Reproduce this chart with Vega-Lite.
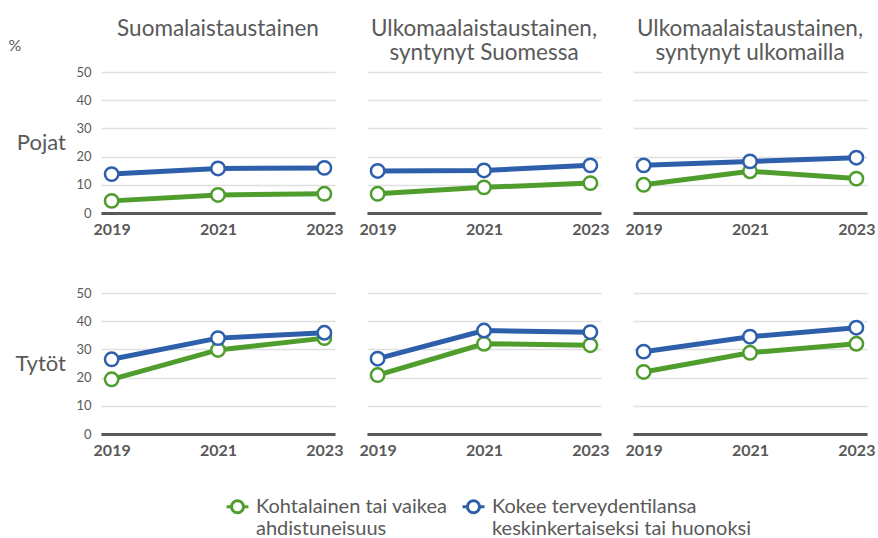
{
  "$schema": "https://vega.github.io/schema/vega-lite/v6.json",
  "padding": {"left": 8, "top": 17, "right": 0, "bottom": 5},
  "title": {"text": "%", "anchor": "start", "frame": "bounds", "fontSize": 16, "fontWeight": "normal", "color": "#595959", "dy": 36, "dx": -7, "offset": 0},
  "data": {
    "values": [
      {"sex": "Pojat", "group": "Suomalaistaustainen|", "measure": "Kohtalainen tai vaikea|ahdistuneisuus", "year": "2019", "value": 4.3},
      {"sex": "Pojat", "group": "Suomalaistaustainen|", "measure": "Kohtalainen tai vaikea|ahdistuneisuus", "year": "2021", "value": 6.4},
      {"sex": "Pojat", "group": "Suomalaistaustainen|", "measure": "Kohtalainen tai vaikea|ahdistuneisuus", "year": "2023", "value": 6.8},
      {"sex": "Pojat", "group": "Suomalaistaustainen|", "measure": "Kokee terveydentilansa|keskinkertaiseksi tai huonoksi", "year": "2019", "value": 13.8},
      {"sex": "Pojat", "group": "Suomalaistaustainen|", "measure": "Kokee terveydentilansa|keskinkertaiseksi tai huonoksi", "year": "2021", "value": 15.8},
      {"sex": "Pojat", "group": "Suomalaistaustainen|", "measure": "Kokee terveydentilansa|keskinkertaiseksi tai huonoksi", "year": "2023", "value": 16.0},
      {"sex": "Pojat", "group": "Ulkomaalaistaustainen,|syntynyt Suomessa", "measure": "Kohtalainen tai vaikea|ahdistuneisuus", "year": "2019", "value": 6.8},
      {"sex": "Pojat", "group": "Ulkomaalaistaustainen,|syntynyt Suomessa", "measure": "Kohtalainen tai vaikea|ahdistuneisuus", "year": "2021", "value": 9.1},
      {"sex": "Pojat", "group": "Ulkomaalaistaustainen,|syntynyt Suomessa", "measure": "Kohtalainen tai vaikea|ahdistuneisuus", "year": "2023", "value": 10.6},
      {"sex": "Pojat", "group": "Ulkomaalaistaustainen,|syntynyt Suomessa", "measure": "Kokee terveydentilansa|keskinkertaiseksi tai huonoksi", "year": "2019", "value": 14.9},
      {"sex": "Pojat", "group": "Ulkomaalaistaustainen,|syntynyt Suomessa", "measure": "Kokee terveydentilansa|keskinkertaiseksi tai huonoksi", "year": "2021", "value": 15.1},
      {"sex": "Pojat", "group": "Ulkomaalaistaustainen,|syntynyt Suomessa", "measure": "Kokee terveydentilansa|keskinkertaiseksi tai huonoksi", "year": "2023", "value": 16.9},
      {"sex": "Pojat", "group": "Ulkomaalaistaustainen,|syntynyt ulkomailla", "measure": "Kohtalainen tai vaikea|ahdistuneisuus", "year": "2019", "value": 10.0},
      {"sex": "Pojat", "group": "Ulkomaalaistaustainen,|syntynyt ulkomailla", "measure": "Kohtalainen tai vaikea|ahdistuneisuus", "year": "2021", "value": 14.8},
      {"sex": "Pojat", "group": "Ulkomaalaistaustainen,|syntynyt ulkomailla", "measure": "Kohtalainen tai vaikea|ahdistuneisuus", "year": "2023", "value": 12.2},
      {"sex": "Pojat", "group": "Ulkomaalaistaustainen,|syntynyt ulkomailla", "measure": "Kokee terveydentilansa|keskinkertaiseksi tai huonoksi", "year": "2019", "value": 16.9},
      {"sex": "Pojat", "group": "Ulkomaalaistaustainen,|syntynyt ulkomailla", "measure": "Kokee terveydentilansa|keskinkertaiseksi tai huonoksi", "year": "2021", "value": 18.3},
      {"sex": "Pojat", "group": "Ulkomaalaistaustainen,|syntynyt ulkomailla", "measure": "Kokee terveydentilansa|keskinkertaiseksi tai huonoksi", "year": "2023", "value": 19.6},
      {"sex": "Tytöt", "group": "Suomalaistaustainen|", "measure": "Kohtalainen tai vaikea|ahdistuneisuus", "year": "2019", "value": 19.4},
      {"sex": "Tytöt", "group": "Suomalaistaustainen|", "measure": "Kohtalainen tai vaikea|ahdistuneisuus", "year": "2021", "value": 29.8},
      {"sex": "Tytöt", "group": "Suomalaistaustainen|", "measure": "Kohtalainen tai vaikea|ahdistuneisuus", "year": "2023", "value": 34.0},
      {"sex": "Tytöt", "group": "Suomalaistaustainen|", "measure": "Kokee terveydentilansa|keskinkertaiseksi tai huonoksi", "year": "2019", "value": 26.5},
      {"sex": "Tytöt", "group": "Suomalaistaustainen|", "measure": "Kokee terveydentilansa|keskinkertaiseksi tai huonoksi", "year": "2021", "value": 34.0},
      {"sex": "Tytöt", "group": "Suomalaistaustainen|", "measure": "Kokee terveydentilansa|keskinkertaiseksi tai huonoksi", "year": "2023", "value": 35.9},
      {"sex": "Tytöt", "group": "Ulkomaalaistaustainen,|syntynyt Suomessa", "measure": "Kohtalainen tai vaikea|ahdistuneisuus", "year": "2019", "value": 20.9},
      {"sex": "Tytöt", "group": "Ulkomaalaistaustainen,|syntynyt Suomessa", "measure": "Kohtalainen tai vaikea|ahdistuneisuus", "year": "2021", "value": 32.0},
      {"sex": "Tytöt", "group": "Ulkomaalaistaustainen,|syntynyt Suomessa", "measure": "Kohtalainen tai vaikea|ahdistuneisuus", "year": "2023", "value": 31.5},
      {"sex": "Tytöt", "group": "Ulkomaalaistaustainen,|syntynyt Suomessa", "measure": "Kokee terveydentilansa|keskinkertaiseksi tai huonoksi", "year": "2019", "value": 26.7},
      {"sex": "Tytöt", "group": "Ulkomaalaistaustainen,|syntynyt Suomessa", "measure": "Kokee terveydentilansa|keskinkertaiseksi tai huonoksi", "year": "2021", "value": 36.7},
      {"sex": "Tytöt", "group": "Ulkomaalaistaustainen,|syntynyt Suomessa", "measure": "Kokee terveydentilansa|keskinkertaiseksi tai huonoksi", "year": "2023", "value": 36.1},
      {"sex": "Tytöt", "group": "Ulkomaalaistaustainen,|syntynyt ulkomailla", "measure": "Kohtalainen tai vaikea|ahdistuneisuus", "year": "2019", "value": 22.0},
      {"sex": "Tytöt", "group": "Ulkomaalaistaustainen,|syntynyt ulkomailla", "measure": "Kohtalainen tai vaikea|ahdistuneisuus", "year": "2021", "value": 28.8},
      {"sex": "Tytöt", "group": "Ulkomaalaistaustainen,|syntynyt ulkomailla", "measure": "Kohtalainen tai vaikea|ahdistuneisuus", "year": "2023", "value": 32.0},
      {"sex": "Tytöt", "group": "Ulkomaalaistaustainen,|syntynyt ulkomailla", "measure": "Kokee terveydentilansa|keskinkertaiseksi tai huonoksi", "year": "2019", "value": 29.2},
      {"sex": "Tytöt", "group": "Ulkomaalaistaustainen,|syntynyt ulkomailla", "measure": "Kokee terveydentilansa|keskinkertaiseksi tai huonoksi", "year": "2021", "value": 34.5},
      {"sex": "Tytöt", "group": "Ulkomaalaistaustainen,|syntynyt ulkomailla", "measure": "Kokee terveydentilansa|keskinkertaiseksi tai huonoksi", "year": "2023", "value": 37.7}
    ]
  },
  "facet": {
    "row": {"field": "sex", "type": "nominal", "sort": ["Pojat", "Tytöt"], "header": {"title": null, "labelAngle": 0, "labelOrient": "left", "labelAlign": "left", "labelFontSize": 22, "labelColor": "#595959", "labelPadding": 10}},
    "column": {"field": "group", "type": "nominal", "sort": ["Suomalaistaustainen|", "Ulkomaalaistaustainen,|syntynyt Suomessa", "Ulkomaalaistaustainen,|syntynyt ulkomailla"], "header": {"title": null, "labelExpr": "split(datum.label, '|')", "labelFontSize": 22.5, "labelColor": "#595959", "labelLineHeight": 24, "labelPadding": 8, "labelLimit": 0}}
  },
  "bounds": "flush",
  "spacing": {"row": 80, "column": 32},
  "resolve": {"axis": {"x": "independent"}},
  "spec": {
    "width": 234,
    "height": 141,
    "encoding": {
      "x": {"field": "year", "type": "ordinal", "scale": {"type": "point", "padding": 0.1}, "axis": {"title": null, "labelAngle": 0, "ticks": false, "labelFontWeight": "bold", "labelFontSize": 16, "labelColor": "#595959", "domainColor": "#595959", "domainWidth": 3, "grid": false, "labelPadding": 8}},
      "y": {"field": "value", "type": "quantitative", "scale": {"domain": [0, 50]}, "axis": {"title": null, "values": [0, 10, 20, 30, 40, 50], "ticks": false, "domain": false, "gridColor": "#e0e0e0", "gridWidth": 1.5, "labelColor": "#595959", "labelFontSize": 13, "labelPadding": 10}},
      "stroke": {"field": "measure", "type": "nominal", "title": null, "scale": {"domain": ["Kohtalainen tai vaikea|ahdistuneisuus", "Kokee terveydentilansa|keskinkertaiseksi tai huonoksi"], "range": ["#4f9d2d", "#2e5faa"]}, "legend": {"orient": "none", "legendX": 124, "legendY": 422, "direction": "horizontal", "labelExpr": "split(datum.label, '|')", "labelFontSize": 20, "labelColor": "#595959", "labelLimit": 0, "labelLineHeight": 23, "symbolType": "M-1,0L-0.55,0M0.55,0L1,0M-0.55,0A0.55,0.55 0 1,1 0.55,0A0.55,0.55 0 1,1 -0.55,0Z", "symbolSize": 480, "symbolStrokeWidth": 3, "symbolFillColor": "white", "columnPadding": 8, "labelOffset": 6}}
    },
    "layer": [
      {"mark": {"type": "line", "strokeWidth": 5}},
      {"mark": {"type": "point", "filled": true, "fill": "white", "size": 180, "strokeWidth": 2.5, "opacity": 1}}
    ]
  },
  "config": {"font": "Lato", "view": {"stroke": null}}
}
